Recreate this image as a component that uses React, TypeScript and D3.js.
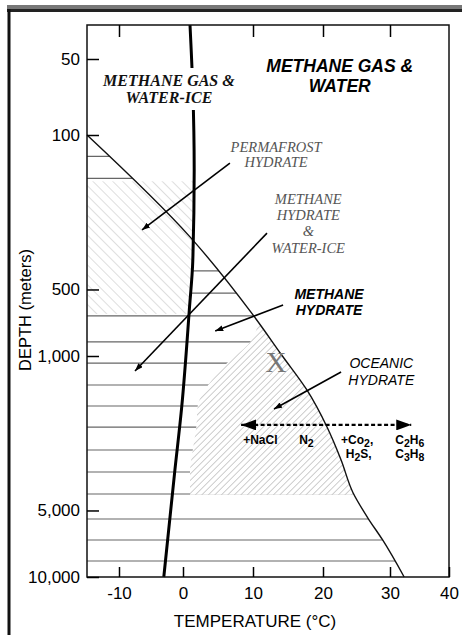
import React, { useEffect, useRef } from 'react';
import * as d3 from 'd3';

const tempTicks = [-10, 0, 10, 20, 30, 40];
const topTicks = [-10, 10, 20, 30];
const depthTicks = [50, 100, 500, 1000, 5000, 10000];

// [temperature °C, depth m]
const hydrateCurve = [
  [-15, 100], [1, 289], [10, 652], [14.2, 1000], [17.7, 1425], [20.6, 2096],
  [22.7, 2954], [24.5, 4168], [26.7, 5408], [28.9, 6800], [32.4, 10000],
];
const iceLine = [
  [1.0, 36], [1.4, 66], [1.6, 144], [1.4, 370], [0.9, 620], [-0.2, 1700], [-1.3, 3350], [-3.0, 10000],
];
const stripeDepths = [125, 157, 412, 519, 659, 864, 1076, 1353, 1684, 2096, 2663, 3349, 4211, 5466, 6802, 8464];
const permafrostDepths = [162, 645];
const oceanicEdge = [
  [10.8, 700], [9.6, 864], [6.3, 1076], [3.6, 1353], [2.1, 1684], [1.9, 2096], [1.4, 2663], [1.0, 3349], [1.0, 4250],
];

// arrows: [fromTemp, fromDepth, toTemp, toDepth]
const arrows = [
  [6.7, 134, -6.4, 269],
  [12, 278, -7.5, 1169],
  [14.3, 588, 4.6, 771],
  [22.7, 1181, 13, 1737],
];
const saltArrow = [8.3, 33.6, 2050];

const SANS = 'Liberation Sans, Arial, sans-serif';
const SERIF = 'Liberation Serif, Times New Roman, serif';

const App = () => {
  const svgRef = useRef<SVGSVGElement>(null);

  useEffect(() => {
    const svg = d3.select(svgRef.current);
    svg.selectAll('*').remove();

    const x = d3.scaleLinear().domain([-15, -10, 0, 10, 20, 30, 40]).range([87, 119, 183, 253, 323, 390, 449]);
    const y = d3.scaleLog().domain([36, 50, 100, 10000]).range([25, 59, 135, 577]);

    const line = d3.line<number[]>().x(d => x(d[0])).y(d => y(d[1])).curve(d3.curveMonotoneY);

    const defs = svg.append('defs');
    const hydratePath = line(hydrateCurve) + `L${x(-15)},${y(10000)}Z`;
    defs.append('clipPath').attr('id', 'hydrate').append('path').attr('d', hydratePath);
    const icePath = line(iceLine) + `L${x(-15)},${y(10000)}L${x(-15)},${y(36)}Z`;
    defs.append('clipPath').attr('id', 'iceLeft').append('path').attr('d', icePath);

    const pf = defs.append('pattern').attr('id', 'hatchP').attr('width', 7).attr('height', 7)
      .attr('patternUnits', 'userSpaceOnUse').attr('patternTransform', 'rotate(-45)');
    pf.append('line').attr('x1', 0).attr('y1', 0).attr('x2', 0).attr('y2', 7).attr('stroke', '#c8c8c8').attr('stroke-width', 1.2);
    const oc = defs.append('pattern').attr('id', 'hatchO').attr('width', 4.6).attr('height', 4.6)
      .attr('patternUnits', 'userSpaceOnUse').attr('patternTransform', 'rotate(45)');
    oc.append('line').attr('x1', 0).attr('y1', 0).attr('x2', 0).attr('y2', 4.6).attr('stroke', '#9a9a9a').attr('stroke-width', 1);

    const mk = (id: string, w: number, h: number) => {
      defs.append('marker').attr('id', id).attr('viewBox', `0 0 ${w} ${h}`).attr('refX', w).attr('refY', h / 2)
        .attr('markerWidth', w).attr('markerHeight', h).attr('markerUnits', 'userSpaceOnUse').attr('orient', 'auto-start-reverse')
        .append('path').attr('d', `M0,0L${w},${h / 2}L0,${h}Z`).attr('fill', '#000');
    };
    mk('head', 8, 6);
    mk('bigHead', 15, 11);

    // outer frame
    svg.append('rect').attr('x', 7).attr('y', 5).attr('width', 455).attr('height', 7).attr('fill', '#777');
    svg.append('rect').attr('x', 7).attr('y', 9).attr('width', 455).attr('height', 3).attr('fill', '#222');
    svg.append('rect').attr('x', 7.5).attr('y', 9).attr('width', 3).attr('height', 626).attr('fill', '#111');

    // stripes of the hydrate field
    svg.append('g').attr('clip-path', 'url(#hydrate)')
      .selectAll('line').data(stripeDepths).enter().append('line')
      .attr('x1', x(-15)).attr('x2', x(40)).attr('y1', d => y(d)).attr('y2', d => y(d))
      .attr('stroke', '#666').attr('stroke-width', 1.2);

    // permafrost hydrate hatch
    const pg = svg.append('g').attr('clip-path', 'url(#iceLeft)');
    ['#fff', 'url(#hatchP)'].forEach(fill => {
      pg.append('rect').attr('x', x(-15)).attr('y', y(permafrostDepths[0])).attr('width', x(5) - x(-15))
        .attr('height', y(permafrostDepths[1]) - y(permafrostDepths[0])).attr('fill', fill);
    });

    // oceanic hydrate hatch
    const last = oceanicEdge[oceanicEdge.length - 1];
    const ocPath = line(oceanicEdge) + `L${x(40)},${y(last[1])}L${x(40)},${y(oceanicEdge[0][1])}Z`;
    const og = svg.append('g').attr('clip-path', 'url(#hydrate)');
    og.append('path').attr('d', ocPath).attr('fill', '#fff');
    og.append('path').attr('d', ocPath).attr('fill', 'url(#hatchO)');

    // curves
    svg.append('path').attr('d', line(hydrateCurve)).attr('fill', 'none').attr('stroke', '#111').attr('stroke-width', 1.4);
    svg.append('path').attr('d', line(iceLine)).attr('fill', 'none').attr('stroke', '#000').attr('stroke-width', 3);

    // plot box
    svg.append('rect').attr('x', x(-15)).attr('y', y(36)).attr('width', x(40) - x(-15)).attr('height', y(10000) - y(36))
      .attr('fill', 'none').attr('stroke', '#111').attr('stroke-width', 1.5);

    const styleAxis = (g: any) => {
      g.select('.domain').remove();
      g.attr('font-family', SANS).attr('font-size', 17);
      g.selectAll('line').attr('stroke-width', 1.5);
    };
    svg.append('g').attr('transform', `translate(${x(-15)},0)`)
      .call(d3.axisLeft(y).tickValues(depthTicks).tickSizeInner(-12).tickSizeOuter(0).tickPadding(7).tickFormat(d3.format(',')))
      .call(styleAxis);
    svg.append('g').attr('transform', `translate(0,${y(10000)})`)
      .call(d3.axisBottom(x).tickValues(tempTicks).tickSizeInner(-10).tickSizeOuter(0).tickPadding(10).tickFormat(d => String(d)))
      .call(styleAxis);
    svg.append('g').attr('transform', `translate(0,${y(36)})`)
      .call(d3.axisTop(x).tickValues(topTicks).tickSizeInner(-12).tickSizeOuter(0).tickFormat(() => ''))
      .call(styleAxis);

    svg.append('text').attr('x', x(10) + 2).attr('y', 627).attr('text-anchor', 'middle')
      .attr('font-family', SANS).attr('font-size', 17).text('TEMPERATURE (°C)');
    svg.append('text').attr('transform', 'translate(31,310) rotate(-90)').attr('text-anchor', 'middle')
      .attr('font-family', SANS).attr('font-size', 16.5).text('DEPTH (meters)');

    // arrows
    svg.append('g').selectAll('line').data(arrows).enter().append('line')
      .attr('x1', d => x(d[0])).attr('y1', d => y(d[1])).attr('x2', d => x(d[2])).attr('y2', d => y(d[3]))
      .attr('stroke', '#000').attr('stroke-width', 1.6).attr('marker-end', 'url(#head)');
    svg.append('line').attr('x1', x(saltArrow[0])).attr('x2', x(saltArrow[1]))
      .attr('y1', y(saltArrow[2])).attr('y2', y(saltArrow[2]))
      .attr('stroke', '#000').attr('stroke-width', 2.4).attr('stroke-dasharray', '4,2.5')
      .attr('marker-start', 'url(#bigHead)').attr('marker-end', 'url(#bigHead)');

    // labels
    const label = (t: number, dep: number, lines: string[], gap: number, font: string, size: number,
      weight: string, color: string) => {
      const el = svg.append('text').attr('x', x(t)).attr('y', y(dep)).attr('text-anchor', 'middle')
        .attr('font-family', font).attr('font-size', size).attr('font-style', 'italic')
        .attr('font-weight', weight).attr('fill', color);
      lines.forEach((s, i) => el.append('tspan').attr('x', x(t)).attr('dy', i === 0 ? 0 : gap).text(s));
      return el;
    };
    svg.append('rect').attr('x', 93).attr('y', 68).attr('width', 150).attr('height', 42).attr('fill', '#fff');
    label(-2.2, 64, ['METHANE GAS &', 'WATER-ICE'], 17, SERIF, 16, 'bold', '#111');
    label(22.5, 56.4, ['METHANE GAS &', 'WATER'], 20, SANS, 17.5, 'bold', '#000');
    label(13.3, 119, ['PERMAFROST', 'HYDRATE'], 15, SERIF, 14.5, 'normal', '#555');
    label(17.9, 205, ['METHANE', 'HYDRATE', '&', 'WATER-ICE'], 16.3, SERIF, 14.5, 'normal', '#555');
    label(20.9, 552, ['METHANE', 'HYDRATE'], 16, SANS, 14, 'bold', '#000');
    label(28.7, 1133, ['OCEANIC', 'HYDRATE'], 17, SANS, 14, 'normal', '#000');
    svg.append('text').attr('x', x(13.3)).attr('y', y(1181)).attr('text-anchor', 'middle')
      .attr('font-family', SERIF).attr('font-size', 29).attr('fill', '#777').text('X');

    // chemistry labels
    const chem = (t: number, dep: number, parts: [string, boolean][]) => {
      const el = svg.append('text').attr('x', x(t)).attr('y', y(dep)).attr('font-family', SANS)
        .attr('font-size', 12).attr('font-weight', 'bold').attr('fill', '#000');
      parts.forEach(([s, isSub]) => {
        el.append('tspan').attr('baseline-shift', isSub ? -3 : 0).attr('font-size', isSub ? 10.5 : 12).text(s);
      });
    };
    chem(8.6, 2500, [['+NaCl', false]]);
    chem(16.6, 2500, [['N', false], ['2', true]]);
    chem(22.7, 2500, [['+Co', false], ['2', true], [',', false]]);
    chem(23.4, 2890, [['H', false], ['2', true], ['S,', false]]);
    chem(30.9, 2500, [['C', false], ['2', true], ['H', false], ['6', true]]);
    chem(30.9, 2890, [['C', false], ['3', true], ['H', false], ['8', true]]);
  }, []);

  return (
    <svg ref={svgRef} width={462} height={635} style={{ position: 'absolute', left: 0, top: 0, background: '#fff' }} />
  );
};

export default App;
